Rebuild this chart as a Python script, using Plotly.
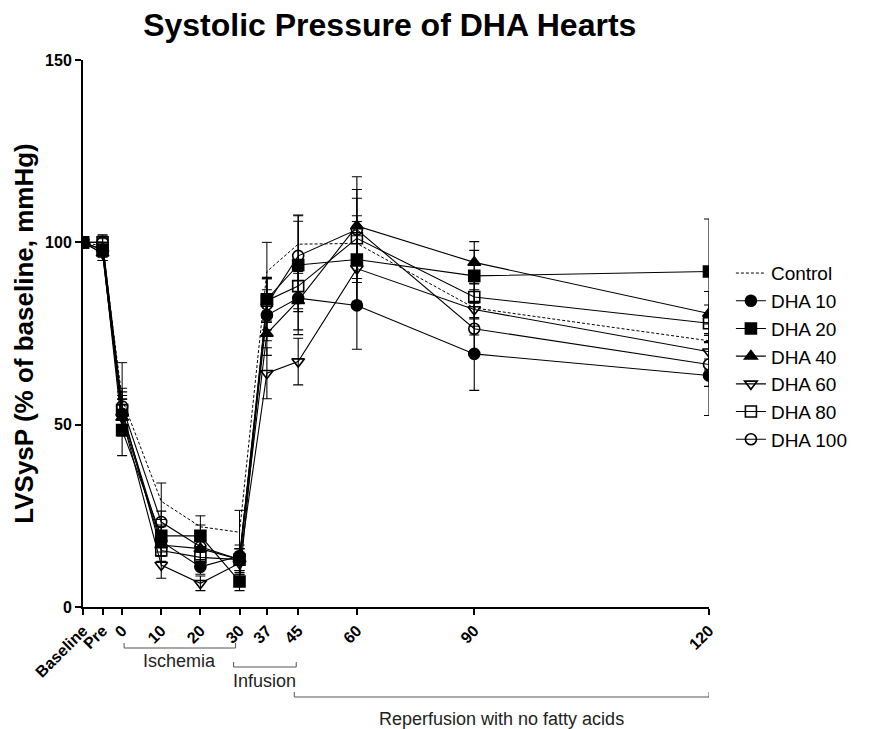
import plotly.graph_objects as go

# x positions (minutes; Baseline/Pre placed before 0, the "120" point plotted at 150)
x_pos = [-10, -5, 0, 10, 20, 30, 37, 45, 60, 90, 150]
tick_labels = ['Baseline', 'Pre', '0', '10', '20', '30', '37', '45', '60', '90', '120']

control = [100, 99, 57, 29, 22, 20.5, 92, 99.5, 99.7, 82, 73]
control_err = [0, 2, 10, 5, 3, 6, 8, 8, 6, 5, 5]

dha10 = [100, 98, 53, 18, 11, 14, 80, 84.7, 82.7, 69.4, 63.5]
dha10_err = [0, 2, 5, 4, 2, 2, 7, 10, 12, 10, 11]

dha20 = [100, 98, 48.5, 19.5, 19.5, 7, 84.4, 93.8, 95.3, 90.8, 92]
dha20_err = [0, 2, 7, 3, 3, 2.5, 6, 12, 12, 7, 14.4]

dha40 = [100, 97, 52, 17, 16, 13, 75, 84, 104.5, 94.5, 80.5]
dha40_err = [0, 2, 5, 3, 3, 3, 6, 8, 10, 5.7, 6]

dha60 = [100, 97, 52, 11.5, 6.5, 12, 64.1, 67.3, 92.8, 81.6, 70]
dha60_err = [0, 2, 5, 3.6, 2, 3, 7, 6.4, 9, 7, 5]

dha80 = [100, 100, 54, 15.5, 13.6, 13, 84, 88, 101.1, 85, 77.8]
dha80_err = [0, 2, 5, 3, 3, 3, 6, 7, 11, 6, 5]

dha100 = [100, 100, 55, 23.3, 16.5, 13, 83, 96.3, 103.5, 76.3, 66.5]
dha100_err = [0, 2, 5, 3, 4, 4, 7, 11, 14.5, 7, 6]

FONT = 'Liberation Sans, Arial, sans-serif'

series = [
    ('DHA 10', dha10, dha10_err, 'circle'),
    ('DHA 20', dha20, dha20_err, 'square'),
    ('DHA 40', dha40, dha40_err, 'triangle-up'),
    ('DHA 60', dha60, dha60_err, 'triangle-down-open'),
    ('DHA 80', dha80, dha80_err, 'square-open'),
    ('DHA 100', dha100, dha100_err, 'circle-open'),
]

fig = go.Figure()
fig.add_trace(go.Scatter(
    x=x_pos, y=control, name='Control', mode='lines',
    line=dict(color='black', width=1, dash='3px,2px'),
    error_y=dict(type='data', array=control_err, visible=True, color='black', thickness=1, width=5),
))
for name, vals, err, sym in series:
    fig.add_trace(go.Scatter(
        x=x_pos, y=vals, name=name, mode='lines+markers',
        line=dict(color='black', width=1.1),
        marker=dict(symbol=sym, size=11, color='black', line=dict(color='black', width=1.6)),
        error_y=dict(type='data', array=err, visible=True, color='black', thickness=1.1, width=5),
    ))

# brackets below the x axis
def py(pix):
    return (607 - pix) / 547.0

brackets = [
    (0.5, 29, 648, 'Ischemia', 0.5 * (0.5 + 29), 649),
    (28.5, 44.5, 667, 'Infusion', 36.5, 669),
    (44, 150, 697, 'Reperfusion with no fatty acids', 97, 707),
]
shapes = []
annotations = []
for x0, x1, ypix, label, xl, ylab in brackets:
    shapes.append(dict(type='line', xref='x', yref='paper', x0=x0, x1=x1, y0=py(ypix), y1=py(ypix),
                       line=dict(color='#555', width=1)))
    shapes.append(dict(type='line', xref='x', yref='paper', x0=x0, x1=x0, y0=py(ypix), y1=py(ypix - 5),
                       line=dict(color='#555', width=1)))
    shapes.append(dict(type='line', xref='x', yref='paper', x0=x1, x1=x1, y0=py(ypix), y1=py(ypix - 5),
                       line=dict(color='#555', width=1)))
    annotations.append(dict(text=label, xref='x', yref='paper', x=xl, y=py(ylab), yanchor='top',
                            showarrow=False, font=dict(family=FONT, size=18, color='#222')))

fig.update_layout(
    width=879, height=729,
    margin=dict(l=83, r=170, t=60, b=122),
    paper_bgcolor='white', plot_bgcolor='white',
    title=dict(text='Systolic Pressure of DHA Hearts', x=0.49, xref='paper', y=0.966, yref='container',
               xanchor='center', yanchor='middle',
               font=dict(family=FONT, size=32, color='black', weight='bold')),
    showlegend=True,
    legend=dict(x=1.035, y=0.645, xanchor='left', yanchor='top', bgcolor='rgba(0,0,0,0)',
                font=dict(family=FONT, size=19, color='black')),
    shapes=shapes,
    annotations=annotations,
)
fig.update_xaxes(
    range=[-10, 150], tickmode='array', tickvals=x_pos, ticktext=tick_labels,
    tickangle=-45, showgrid=False, zeroline=False, showline=True, linecolor='black', linewidth=2,
    ticks='outside', ticklen=6, tickwidth=1.5, tickcolor='black',
    tickfont=dict(family=FONT, size=16, color='black', weight='bold'),
)
fig.update_yaxes(
    range=[0, 150], tickvals=[0, 50, 100, 150], showgrid=False, zeroline=False,
    showline=True, linecolor='black', linewidth=2,
    ticks='outside', ticklen=6, tickwidth=1.5, tickcolor='black',
    tickfont=dict(family=FONT, size=16, color='black', weight='bold'),
    title=dict(text='LVSysP (% of baseline, mmHg)', standoff=4,
               font=dict(family=FONT, size=26, color='black', weight='bold')),
)

fig.write_html('out.html')
